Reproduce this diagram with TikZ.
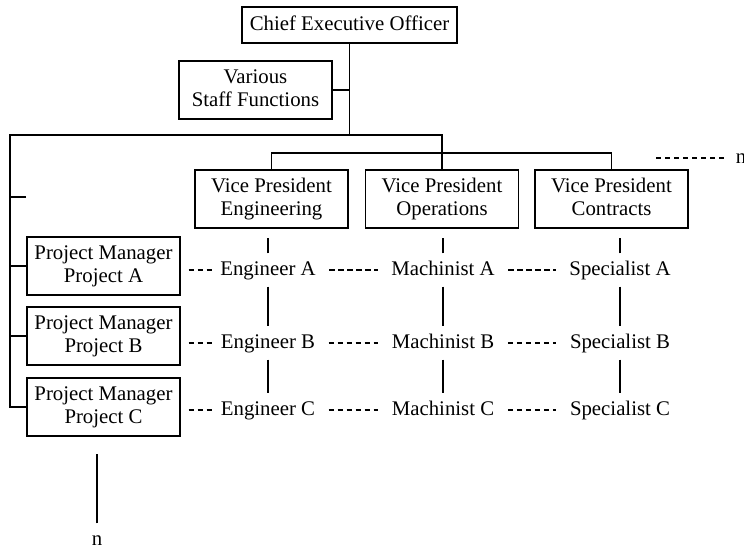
\documentclass[tikz,border=0pt]{standalone}
\usepackage{fontspec}
\setmainfont{Liberation Serif}

\tikzset{
  box/.style={draw, align=center, minimum width=76.5pt, minimum height=29pt, inner sep=1pt, text depth=2.2pt},
  worker/.style={inner sep=3.5pt, text height=7pt, text depth=2pt},
  dashlink/.style={dash pattern=on 2.6pt off 1.9pt, shorten <=3pt, shorten >=3pt},
}

\begin{document}
\begin{tikzpicture}[x=0.5pt, y=-0.5pt, line width=0.65pt, font=\fontsize{10.4}{11.6}\selectfont]
  \useasboundingbox (0,0) rectangle (744,548);

  % top of the chart
  \node[box, minimum width=107.5pt, minimum height=18pt] (ceo) at (349.5,25) {Chief Executive Officer};
  \node[box] (staff) at (255.5,90) {Various\\Staff Functions};
  \node[box] (eng) at (271.5,199) {Vice President\\Engineering};
  \node[box] (ops) at (442,199) {Vice President\\Operations};
  \node[box] (con) at (611.5,199) {Vice President\\Contracts};
  \foreach \r/\y in {A/266, B/336, C/407}{
    \node[box] (pm\r) at (103.5,\y) {Project Manager\\Project \r};
  }

  \coordinate (trunk) at (10,135);
  \coordinate (bus) at (0,153);
  \coordinate (tick) at (26,197);

  \draw (ceo.south) -- (ceo.south |- trunk);
  \draw (staff.east) -- (staff.east -| ceo.south);
  \draw (ops.north) |- (trunk) |- (pmC.west);
  \draw (eng.north) -- (eng.north |- bus) -| (con.north);
  \draw (tick) -- (tick -| trunk);
  \foreach \r in {A,B}{
    \draw (pm\r.west) -- (pm\r.west -| trunk);
  }

  % project rows
  \foreach \r/\y in {A/270, B/343, C/410}{
    \node[worker] (eng\r) at (268,\y) {Engineer \r};
    \node[worker] (mac\r) at (443,\y) {Machinist \r};
    \node[worker] (spc\r) at (620,\y) {Specialist \r};
    \draw[dashlink, shorten <=4pt, shorten >=0pt] (pm\r.east |- eng\r.west) -- (eng\r.west);
    \draw[dashlink] (eng\r.east) -- (mac\r.west);
    \draw[dashlink] (mac\r.east) -- (spc\r.west);
  }
  \foreach \v/\c in {eng/eng, ops/mac, con/spc}{
    \draw[shorten >=4.5pt] (\c A.north) -- (\c A.north |- \v.south);
    \draw (\c A.south) -- (\c B.north);
    \draw (\c B.south) -- (\c C.north);
  }

  % open ends
  \node[worker] (nPm) at (97,540) {n};
  \draw[shorten >=8.5pt] (nPm.north) -- (nPm.north |- pmC.south);
  \node[worker] (nVp) at (741,158) {n};
  \coordinate (nEnd) at (656,158);
  \draw[dashlink, shorten <=0pt, shorten >=1pt] (nEnd) -- (nVp.west);
\end{tikzpicture}
\end{document}
